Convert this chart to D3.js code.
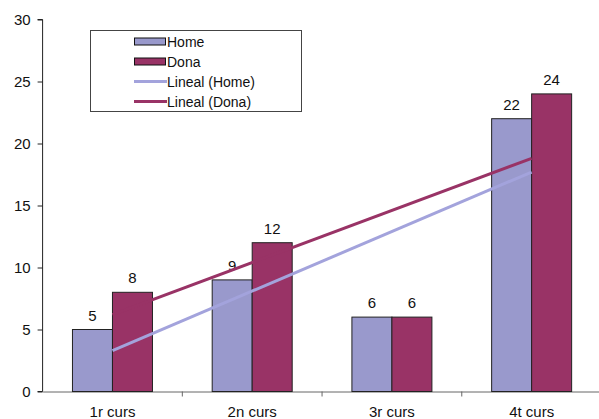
<!DOCTYPE html>
<html><head><meta charset="utf-8">
<script src="https://cdn.jsdelivr.net/npm/d3@7"></script>
<style>body{margin:0;background:#fff;}svg{display:block;font-family:Arial,"Liberation Sans",sans-serif;}</style>
</head><body>
<svg id="c" width="599" height="419"></svg>
<script>
const categories = ["1r curs", "2n curs", "3r curs", "4t curs"];
const homeValues = [5, 9, 6, 22];
const donaValues = [8, 12, 6, 24];
const seriesNames = ["Home", "Dona"];
const yTicks = [0, 5, 10, 15, 20, 25, 30];

const svg = d3.select("#c");
const x = d3.scaleBand().domain(categories).range([42.6, 601.5]).paddingInner(0).paddingOuter(0);
const y = d3.scaleLinear().domain([0, 30]).range([391.5, 19.5]);
const sub = d3.scaleBand().domain(seriesNames).range([0, 80]);
const groupOff = (x.bandwidth() - 80) / 2;
const colors = {Home: "#9999cc", Dona: "#993366"};
const lineColors = {Home: "#a3a3dc", Dona: "#993366"};
const FONT = "Arial, 'Liberation Sans', sans-serif";

// x axis
const xAxis = d3.axisBottom(x).tickSize(0).tickPadding(15);
const gx = svg.append("g").attr("transform", `translate(0,${y(0)})`).call(xAxis);
gx.select(".domain").attr("stroke", "#666");
gx.selectAll("text").attr("font-size", 15).attr("fill", "#111").attr("font-family", FONT);
svg.append("g").selectAll("line").data(categories.slice(1)).join("line")
  .attr("x1", d => x(d)).attr("x2", d => x(d))
  .attr("y1", y(0)).attr("y2", y(0) + 5).attr("stroke", "#666");

// y axis
const yAxis = d3.axisLeft(y).tickValues(yTicks).tickSize(5).tickPadding(7);
const gy = svg.append("g").attr("transform", `translate(42.6,0)`).call(yAxis);
gy.select(".domain").attr("stroke", "#222").attr("d", `M-5,${y(30)}H0V${y(0)}H-5`);
gy.selectAll("line").attr("stroke", "#222");
gy.selectAll("text").attr("font-size", 15).attr("fill", "#111").attr("font-family", FONT);

// bars
const data = seriesNames.map(s => ({name: s, values: s === "Home" ? homeValues : donaValues}));
data.forEach(s => {
  const g = svg.append("g");
  g.selectAll("rect").data(s.values).join("rect")
    .attr("x", (d, i) => x(categories[i]) + groupOff + sub(s.name))
    .attr("y", d => y(d))
    .attr("width", sub.bandwidth())
    .attr("height", d => y(0) - y(d))
    .attr("fill", colors[s.name])
    .attr("stroke", "#222").attr("stroke-width", 1);
  g.selectAll("text").data(s.values).join("text")
    .attr("x", (d, i) => x(categories[i]) + groupOff + sub(s.name) + sub.bandwidth() / 2)
    .attr("y", d => y(d) - 9)
    .attr("text-anchor", "middle").attr("font-size", 15).attr("fill", "#111")
    .text(d => d);
});

// linear trendlines
function fit(vals) {
  const n = vals.length, xs = vals.map((v, i) => i + 1);
  const mx = d3.mean(xs), my = d3.mean(vals);
  const sxy = d3.sum(xs.map((xv, i) => (xv - mx) * (vals[i] - my)));
  const sxx = d3.sum(xs.map(xv => (xv - mx) ** 2));
  const b = sxy / sxx, a = my - b * mx;
  return [[1, a + b], [n, a + b * n]];
}
const cx = i => x(categories[i - 1]) + x.bandwidth() / 2;
data.forEach(s => {
  const pts = fit(s.values);
  svg.append("path")
    .attr("d", d3.line().x(p => cx(p[0])).y(p => y(p[1]))(pts))
    .attr("stroke", lineColors[s.name]).attr("stroke-width", 3).attr("fill", "none");
});

// legend
const lg = svg.append("g");
lg.append("rect").attr("x", 90.5).attr("y", 30.5).attr("width", 211).attr("height", 81)
  .attr("fill", "#fff").attr("stroke", "#444").attr("stroke-width", 1);
const legendItems = [
  {label: "Home", type: "bar", key: "Home"},
  {label: "Dona", type: "bar", key: "Dona"},
  {label: "Lineal (Home)", type: "line", key: "Home"},
  {label: "Lineal (Dona)", type: "line", key: "Dona"}
];
legendItems.forEach((it, i) => {
  const cy = 41.5 + i * 20;
  if (it.type === "bar") {
    lg.append("rect").attr("x", 134.5).attr("y", cy - 3.5).attr("width", 31).attr("height", 7)
      .attr("fill", colors[it.key]).attr("stroke", "#111").attr("stroke-width", 1);
  } else {
    lg.append("line").attr("x1", 134).attr("x2", 167).attr("y1", cy).attr("y2", cy)
      .attr("stroke", lineColors[it.key]).attr("stroke-width", 3);
  }
  lg.append("text").attr("x", 167).attr("y", cy + 5).attr("font-size", 14).attr("fill", "#111").text(it.label);
});
</script>
</body></html>
